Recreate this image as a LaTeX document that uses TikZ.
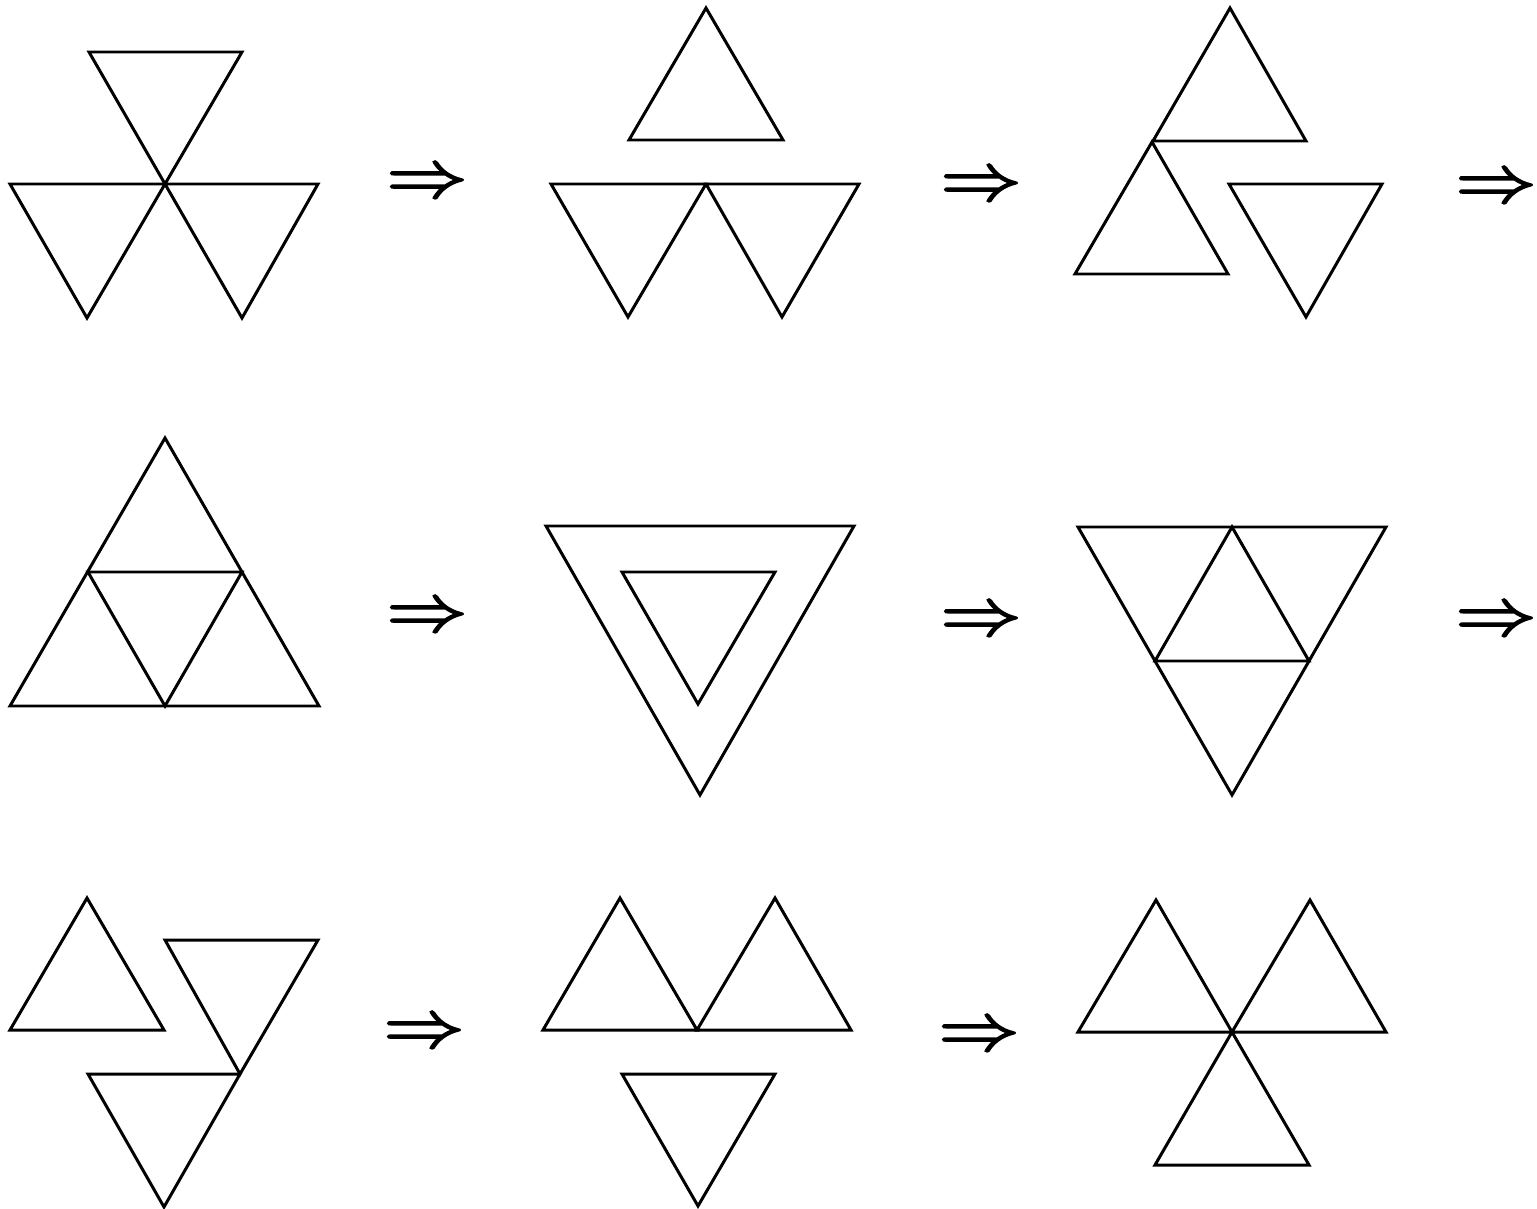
\documentclass[tikz,border=0pt]{standalone}
\begin{document}
\begin{tikzpicture}[x=0.02cm,y=-0.02cm,
  tri/.style={draw=black,line width=1.7pt,line join=miter},
  implies/.style={inner sep=0pt,yshift=-0.09cm}]
\useasboundingbox (0,0) rectangle (1537,1209);
\clip (0,0) rectangle (1537,1209);
% Figure 1
\draw[tri] (89,52) -- (242,52) -- (165,184) -- cycle;
\draw[tri] (10,184) -- (165,184) -- (87,318) -- cycle;
\draw[tri] (165,184) -- (318,184) -- (242,318) -- cycle;
% Figure 2
\draw[tri] (706,8) -- (783,140) -- (629,140) -- cycle;
\draw[tri] (551,184) -- (706,184) -- (628,317) -- cycle;
\draw[tri] (706,184) -- (859,184) -- (782,317) -- cycle;
% Figure 3
\draw[tri] (1230,8) -- (1306,141) -- (1153,141) -- cycle;
\draw[tri] (1152,142) -- (1228,274) -- (1075,274) -- cycle;
\draw[tri] (1229,184) -- (1382,184) -- (1306,317) -- cycle;
% Figure 4
\draw[tri] (165,438) -- (319,706) -- (10,706) -- cycle;
\draw[tri] (88,572) -- (242,572) -- (165,706) -- cycle;
% Figure 5
\draw[tri] (546,526) -- (854,526) -- (700,795) -- cycle;
\draw[tri] (622,572) -- (775,572) -- (698,704) -- cycle;
% Figure 6
\draw[tri] (1078,527) -- (1386,527) -- (1232,795) -- cycle;
\draw[tri] (1232,527) -- (1309,661) -- (1155,661) -- cycle;
% Figure 7
\draw[tri] (87,898) -- (164,1030) -- (10,1030) -- cycle;
\draw[tri] (165,940) -- (318,940) -- (240,1074) -- cycle;
\draw[tri] (88,1074) -- (240,1074) -- (164,1207) -- cycle;
% Figure 8
\draw[tri] (620,898) -- (697,1030) -- (543,1030) -- cycle;
\draw[tri] (775,898) -- (851,1030) -- (697,1030) -- cycle;
\draw[tri] (622,1074) -- (775,1074) -- (698,1206) -- cycle;
% Figure 9
\draw[tri] (1156,900) -- (1232,1032) -- (1078,1032) -- cycle;
\draw[tri] (1310,900) -- (1386,1032) -- (1232,1032) -- cycle;
\draw[tri] (1232,1032) -- (1309,1165) -- (1155,1165) -- cycle;
% Arrows
\newcommand{\bigimp}{\scalebox{4.6}[3.9]{\special{pdf:literal direct 2 Tr 0.25 w}$\Rightarrow$}}
\node[implies] (a1) at (427,180) {\bigimp};
\node[implies] (a2) at (981,183) {\bigimp};
\node[implies] (a3) at (1496,185) {\bigimp};
\node[implies] (a4) at (427,614) {\bigimp};
\node[implies] (a5) at (981,618) {\bigimp};
\node[implies] (a6) at (1496,618) {\bigimp};
\node[implies] (a7) at (424,1030) {\bigimp};
\node[implies] (a8) at (979,1033) {\bigimp};
\end{tikzpicture}
\end{document}
